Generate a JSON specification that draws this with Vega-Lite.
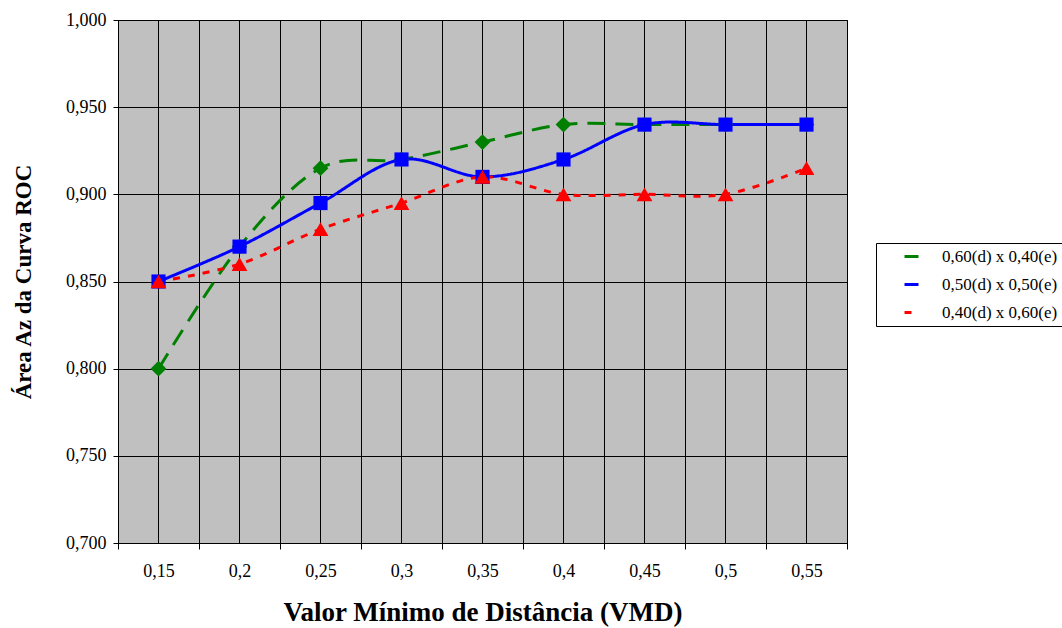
{
  "$schema": "https://vega.github.io/schema/vega-lite/v6.json",
  "width": 729,
  "height": 523,
  "autosize": {"type": "none"},
  "padding": {"left": 118, "top": 20, "right": 215, "bottom": 85},
  "background": "white",
  "config": {
    "view": {"fill": "#C0C0C0", "stroke": "black", "strokeWidth": 1},
    "font": "Liberation Serif",
    "axis": {
      "labelFont": "Liberation Serif", "titleFont": "Liberation Serif",
      "labelColor": "black", "titleColor": "black", "domainColor": "black",
      "tickColor": "black", "gridColor": "black", "gridOpacity": 1, "gridWidth": 1,
      "labelFontSize": 18, "titleFontWeight": "bold"
    }
  },
  "data": {"values": [
    {"serie": "0,60(d) x 0,40(e)", "vmd": "0,15", "az": 0.800},
    {"serie": "0,60(d) x 0,40(e)", "vmd": "0,2", "az": 0.870},
    {"serie": "0,60(d) x 0,40(e)", "vmd": "0,25", "az": 0.915},
    {"serie": "0,60(d) x 0,40(e)", "vmd": "0,3", "az": 0.920},
    {"serie": "0,60(d) x 0,40(e)", "vmd": "0,35", "az": 0.930},
    {"serie": "0,60(d) x 0,40(e)", "vmd": "0,4", "az": 0.940},
    {"serie": "0,60(d) x 0,40(e)", "vmd": "0,45", "az": 0.940},
    {"serie": "0,60(d) x 0,40(e)", "vmd": "0,5", "az": 0.940},
    {"serie": "0,60(d) x 0,40(e)", "vmd": "0,55", "az": 0.940},
    {"serie": "0,50(d) x 0,50(e)", "vmd": "0,15", "az": 0.850},
    {"serie": "0,50(d) x 0,50(e)", "vmd": "0,2", "az": 0.870},
    {"serie": "0,50(d) x 0,50(e)", "vmd": "0,25", "az": 0.895},
    {"serie": "0,50(d) x 0,50(e)", "vmd": "0,3", "az": 0.920},
    {"serie": "0,50(d) x 0,50(e)", "vmd": "0,35", "az": 0.910},
    {"serie": "0,50(d) x 0,50(e)", "vmd": "0,4", "az": 0.920},
    {"serie": "0,50(d) x 0,50(e)", "vmd": "0,45", "az": 0.940},
    {"serie": "0,50(d) x 0,50(e)", "vmd": "0,5", "az": 0.940},
    {"serie": "0,50(d) x 0,50(e)", "vmd": "0,55", "az": 0.940},
    {"serie": "0,40(d) x 0,60(e)", "vmd": "0,15", "az": 0.850},
    {"serie": "0,40(d) x 0,60(e)", "vmd": "0,2", "az": 0.860},
    {"serie": "0,40(d) x 0,60(e)", "vmd": "0,25", "az": 0.880},
    {"serie": "0,40(d) x 0,60(e)", "vmd": "0,3", "az": 0.895},
    {"serie": "0,40(d) x 0,60(e)", "vmd": "0,35", "az": 0.910},
    {"serie": "0,40(d) x 0,60(e)", "vmd": "0,4", "az": 0.900},
    {"serie": "0,40(d) x 0,60(e)", "vmd": "0,45", "az": 0.900},
    {"serie": "0,40(d) x 0,60(e)", "vmd": "0,5", "az": 0.900},
    {"serie": "0,40(d) x 0,60(e)", "vmd": "0,55", "az": 0.915}
  ]},
  "encoding": {
    "x": {
      "field": "vmd", "type": "ordinal", "sort": null,
      "scale": {"type": "band", "paddingInner": 0, "paddingOuter": 0},
      "axis": {
        "title": "Valor Mínimo de Distância (VMD)",
        "labelFont": "Liberation Serif", "labelFontSize": 18,
        "titleFont": "Liberation Serif", "titleFontSize": 27,
        "tickBand": "extent", "grid": true, "labelAngle": 0,
        "tickSize": 6, "labelPadding": 13, "titlePadding": 19
      }
    }
  },
  "layer": [
    {
      "mark": {"type": "rule", "color": "black", "strokeWidth": 1},
      "encoding": {}
    },
    {
      "mark": {"type": "line", "interpolate": "cardinal", "strokeWidth": 3},
      "encoding": {
        "y": {
          "field": "az", "type": "quantitative",
          "scale": {"domain": [0.7, 1.0], "nice": false, "zero": false},
          "axis": {
            "values": [0.7, 0.75, 0.8, 0.85, 0.9, 0.95, 1.0],
            "labelExpr": "replace(format(datum.value, '.3f'), '.', ',')",
            "labelFont": "Liberation Serif", "labelFontSize": 18,
            "titleFont": "Liberation Serif", "titleFontSize": 23,
            "title": "Área Az da Curva ROC", "grid": true,
            "tickSize": 5, "labelPadding": 7, "titlePadding": 30
          }
        },
        "color": {
          "field": "serie", "type": "nominal",
          "scale": {"domain": ["0,60(d) x 0,40(e)", "0,50(d) x 0,50(e)", "0,40(d) x 0,60(e)"], "range": ["#008000", "#0000FF", "#FF0000"]}
        },
        "strokeDash": {
          "field": "serie", "type": "nominal",
          "scale": {"domain": ["0,60(d) x 0,40(e)", "0,50(d) x 0,50(e)", "0,40(d) x 0,60(e)"], "range": [[18, 10], [1, 0], [7, 8]]},
          "legend": null
        }
      }
    },
    {
      "transform": [{"filter": {"field": "serie", "equal": "0,60(d) x 0,40(e)"}}],
      "mark": {"type": "point", "filled": true, "opacity": 1, "size": 250, "shape": "diamond"},
      "encoding": {
        "y": {"field": "az", "type": "quantitative"},
        "color": {
          "field": "serie", "type": "nominal",
          "legend": {
            "title": null, "orient": "none", "legendX": 758, "legendY": 223,
            "strokeColor": "black", "fillColor": "white", "padding": 5,
            "labelFont": "Liberation Serif", "labelFontSize": 17, "labelColor": "black",
            "symbolSize": 196, "symbolOffset": 22, "labelOffset": 22, "rowPadding": 10,
            "symbolStrokeWidth": 3,
            "encode": {
              "symbols": {
                "strokeDash": {"value": {"expr": "datum.value === '0,60(d) x 0,40(e)' ? [9,4] : datum.value === '0,50(d) x 0,50(e)' ? [1,0] : [4,4]"}}
              }
            }
          }
        }
      }
    },
    {
      "transform": [{"filter": {"field": "serie", "equal": "0,50(d) x 0,50(e)"}}],
      "mark": {"type": "point", "filled": true, "opacity": 1, "size": 200, "shape": "square"},
      "encoding": {
        "y": {"field": "az", "type": "quantitative"},
        "color": {"field": "serie", "type": "nominal"}
      }
    },
    {
      "transform": [{"filter": {"field": "serie", "equal": "0,40(d) x 0,60(e)"}}],
      "mark": {"type": "point", "filled": true, "opacity": 1, "size": 250, "shape": "triangle-up"},
      "encoding": {
        "y": {"field": "az", "type": "quantitative"},
        "color": {"field": "serie", "type": "nominal"}
      }
    }
  ]
}
